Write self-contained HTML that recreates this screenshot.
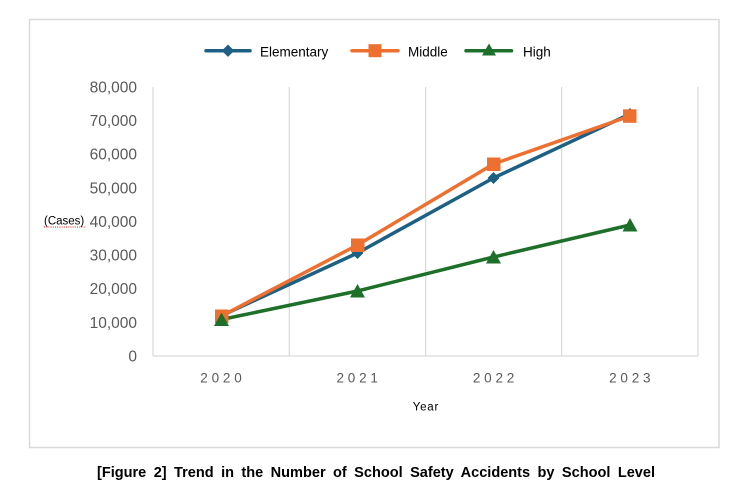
<!DOCTYPE html>
<html><head><meta charset="utf-8"><style>
html,body{margin:0;padding:0;background:#fff;}
svg{display:block;}
</style></head><body>
<svg width="752" height="489" viewBox="0 0 752 489" xmlns="http://www.w3.org/2000/svg">
<rect x="0" y="0" width="752" height="489" fill="#fff"/>
<rect x="29.5" y="19.5" width="689.5" height="428" fill="#fff" stroke="#d9d9d9" stroke-width="1.5"/>
<!-- legend -->
<g stroke-width="3.5" stroke-linecap="round">
<line x1="206" y1="50.7" x2="250" y2="50.7" stroke="#1d6083"/>
<polygon points="228,44.5 234.2,50.7 228,56.9 221.8,50.7" fill="#1d6083"/>
<line x1="352" y1="50.7" x2="398" y2="50.7" stroke="#ed7031"/>
<rect x="368.5" y="44.2" width="13" height="13" fill="#ed7031" stroke="none"/>
<line x1="466" y1="50.7" x2="511.5" y2="50.7" stroke="#1e6f2a"/>
<polygon points="489,43.5 496,55.5 482,55.5" fill="#1e6f2a" stroke="none"/>
</g>
<g font-family="Liberation Sans, Arial, sans-serif" font-size="13.5" fill="#000">
<text x="260" y="56.5">Elementary</text>
<text x="408" y="56.5">Middle</text>
<text x="523" y="56.5">High</text>
</g>
<!-- grid -->
<g stroke="#d9d9d9" stroke-width="1.2">
<line x1="153" y1="87" x2="153" y2="356"/>
<line x1="289.3" y1="87" x2="289.3" y2="356"/>
<line x1="425.7" y1="87" x2="425.7" y2="356"/>
<line x1="561.7" y1="87" x2="561.7" y2="356"/>
<line x1="698" y1="87" x2="698" y2="356"/>
<line x1="153" y1="356" x2="698" y2="356"/>
</g>
<!-- y ticks -->
<g font-family="Liberation Sans, Arial, sans-serif" font-size="15.5" fill="#595959" text-anchor="end">
<text x="137" y="92.5">80,000</text>
<text x="137" y="126.1">70,000</text>
<text x="137" y="159.7">60,000</text>
<text x="137" y="193.3">50,000</text>
<text x="137" y="226.9">40,000</text>
<text x="137" y="260.6">30,000</text>
<text x="137" y="294.2">20,000</text>
<text x="137" y="327.8">10,000</text>
<text x="137" y="361.5">0</text>
</g>
<text x="44" y="224.5" font-family="Liberation Sans, Arial, sans-serif" font-size="11.5" fill="#000">(Cases)</text>
<line x1="44" y1="227" x2="86" y2="227" stroke="#e02020" stroke-width="1" stroke-dasharray="1,1.2"/>
<!-- x ticks -->
<g font-family="Liberation Sans, Arial, sans-serif" font-size="13.5" fill="#595959" text-anchor="middle" letter-spacing="3.8">
<text x="222.9" y="382.5">2020</text>
<text x="359.1" y="382.5">2021</text>
<text x="495.5" y="382.5">2022</text>
<text x="631.7" y="382.5">2023</text>
</g>
<text x="412.7" y="410.5" font-family="Liberation Sans, Arial, sans-serif" font-size="11.5" letter-spacing="0.8" fill="#000">Year</text>
<!-- series -->
<g fill="none" stroke-width="3.5" stroke-linejoin="round">
<polyline points="221.5,319.5 357.5,291 493.5,257 630,225" stroke="#1e6f2a"/>
<polyline points="221.5,315.6 357.5,253 493.5,178 630,114" stroke="#1d6083"/>
<polyline points="221.5,316 357.5,245 493.5,164 630,116" stroke="#ed7031"/>
</g>
<!-- markers elementary -->
<g fill="#1d6083">
<polygon points="221.5,309.6 227.5,315.6 221.5,321.6 215.5,315.6"/>
<polygon points="357.5,247 363.5,253 357.5,259 351.5,253"/>
<polygon points="493.5,172 499.5,178 493.5,184 487.5,178"/>
<polygon points="630,108 636,114 630,120 624,114"/>
</g>
<!-- markers middle -->
<g fill="#ed7031">
<rect x="215" y="309.5" width="13.5" height="13.5"/>
<rect x="351" y="238.5" width="13.5" height="13.5"/>
<rect x="487" y="157.5" width="13.5" height="13.5"/>
<rect x="623" y="109.3" width="13.5" height="13.5"/>
</g>
<!-- markers high -->
<g fill="#1e6f2a">
<polygon points="221.5,312.5 229,326 214,326"/>
<polygon points="357.5,284 365,297.5 350,297.5"/>
<polygon points="493.5,250 501,263.5 486,263.5"/>
<polygon points="630,218 637.5,231.5 622.5,231.5"/>
</g>
<!-- caption -->
<text x="97" y="477" font-family="Liberation Sans, Arial, sans-serif" font-size="15" font-weight="bold" fill="#000" word-spacing="3.5" textLength="558" lengthAdjust="spacingAndGlyphs">[Figure 2] Trend in the Number of School Safety Accidents by School Level</text>
</svg>
</body></html>
